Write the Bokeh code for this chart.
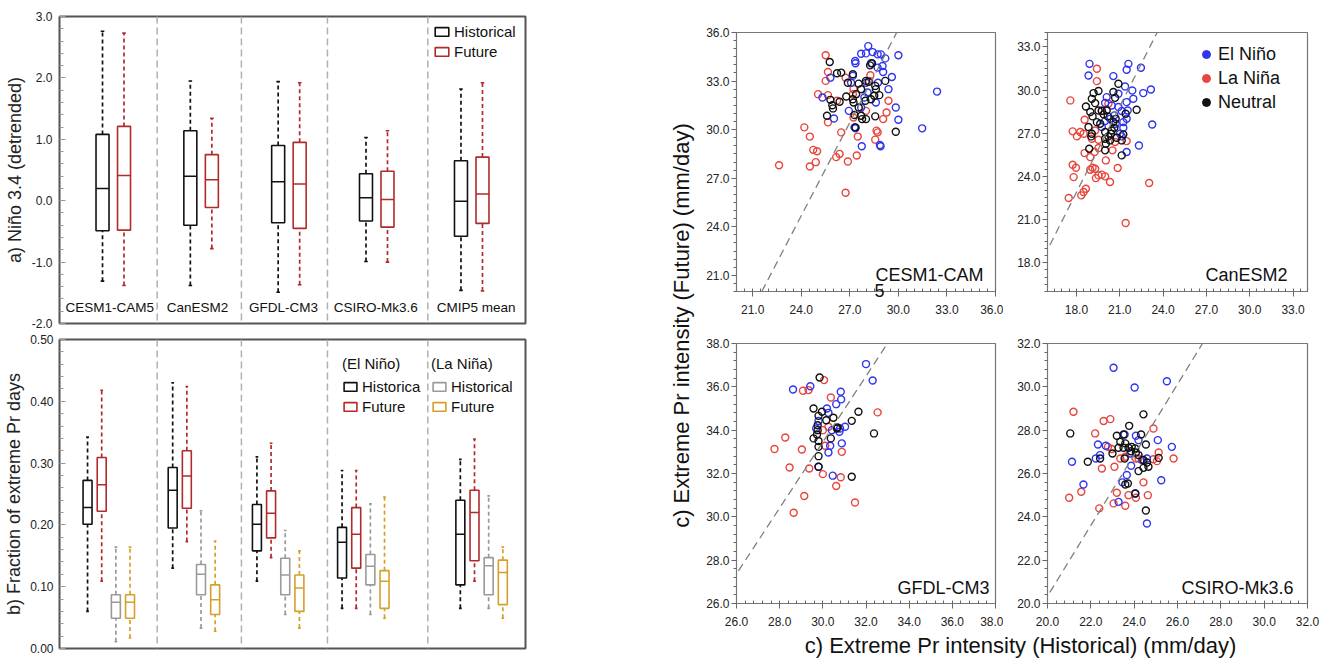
import math
import numpy as np
from bokeh.plotting import figure
from bokeh.layouts import row, column
from bokeh.models import (Range1d, SingleIntervalTicker, PrintfTickFormatter, Label,
                          Legend, LegendItem, Slope, Span, ColumnDataSource,
                          LinearAxis, FixedTicker)
from bokeh.embed import file_html
from bokeh.resources import INLINE

FONT = "Liberation Sans"

# ---------------- data ----------------
models = ["CESM1-CAM5", "CanESM2", "GFDL-CM3", "CSIRO-Mk3.6", "CMIP5 mean"]

# panel a: Nino 3.4 (detrended) box statistics  [min, q1, median, q3, max]
nino_hist = [[-1.31, -0.49, 0.20, 1.08, 2.76],
             [-1.38, -0.40, 0.40, 1.14, 1.95],
             [-1.49, -0.36, 0.31, 0.90, 1.94],
             [-0.99, -0.33, 0.05, 0.44, 1.03],
             [-1.46, -0.58, -0.01, 0.65, 1.82]]
nino_fut = [[-1.38, -0.48, 0.41, 1.21, 2.73],
            [-0.78, -0.11, 0.34, 0.75, 1.34],
            [-1.37, -0.45, 0.27, 0.95, 1.92],
            [-1.00, -0.43, 0.02, 0.48, 1.14],
            [-1.47, -0.37, 0.11, 0.71, 1.92]]

# panel b: fraction of extreme Pr days  [min, q1, median, q3, max]
frac_en_hist = [[0.060, 0.201, 0.228, 0.272, 0.342],
                [0.130, 0.195, 0.256, 0.293, 0.430],
                [0.109, 0.158, 0.201, 0.233, 0.310],
                [0.065, 0.114, 0.172, 0.196, 0.288],
                [0.065, 0.103, 0.185, 0.240, 0.306]]
frac_en_fut = [[0.109, 0.222, 0.265, 0.309, 0.418],
               [0.173, 0.227, 0.279, 0.320, 0.424],
               [0.147, 0.179, 0.219, 0.255, 0.332],
               [0.065, 0.130, 0.185, 0.228, 0.288],
               [0.109, 0.142, 0.220, 0.256, 0.339]]
frac_ln_hist = [[0.011, 0.049, 0.075, 0.087, 0.164],
                [0.033, 0.087, 0.120, 0.136, 0.223],
                [0.055, 0.087, 0.119, 0.146, 0.191],
                [0.055, 0.103, 0.133, 0.152, 0.234],
                [0.065, 0.087, 0.134, 0.147, 0.247]]
frac_ln_fut = [[0.017, 0.049, 0.075, 0.087, 0.164],
               [0.028, 0.055, 0.079, 0.103, 0.174],
               [0.033, 0.060, 0.098, 0.119, 0.158],
               [0.049, 0.065, 0.109, 0.126, 0.245],
               [0.049, 0.071, 0.123, 0.143, 0.164]]

# panel c: extreme Pr intensity (historical, future) per ENSO phase
cesm_elnino = [(28.14, 35.16), (27.70, 34.69), (28.00, 34.71), (28.41, 34.79), (28.72, 34.65), (28.92, 34.65),
               (29.19, 34.40), (30.00, 34.59), (27.33, 34.24), (27.35, 34.10), (28.31, 34.10), (28.72, 33.83),
               (29.02, 33.93), (29.06, 33.56), (29.60, 33.25), (29.39, 32.50), (28.74, 32.90), (28.00, 32.90),
               (27.19, 33.32), (27.08, 32.90), (28.10, 32.29), (27.90, 31.98), (27.70, 31.37), (29.84, 31.37),
               (30.00, 30.61), (26.94, 31.16), (26.02, 30.69), (25.31, 31.98), (25.80, 33.21), (27.29, 30.14),
               (27.35, 30.08), (27.74, 28.97), (28.86, 29.05), (28.90, 28.97), (32.39, 32.35), (31.47, 30.08),
               (28.61, 31.68)]
cesm_lanina = [(25.51, 34.59), (25.65, 33.56), (25.51, 33.01), (26.74, 33.21), (28.27, 33.36), (25.04, 32.19),
               (25.65, 32.13), (26.21, 31.78), (27.23, 32.50), (27.19, 32.19), (29.39, 31.78), (29.27, 31.06),
               (29.06, 30.65), (25.65, 30.45), (24.19, 30.14), (24.53, 29.57), (24.74, 28.75), (24.98, 28.66),
               (24.90, 27.99), (24.53, 27.72), (26.47, 29.83), (26.37, 28.50), (26.16, 28.30), (26.88, 28.03),
               (27.43, 28.40), (27.49, 29.57), (28.65, 29.94), (28.72, 29.83), (28.57, 29.38), (26.74, 26.10),
               (28.00, 31.16), (27.23, 30.75), (28.20, 33.01), (22.63, 27.80)]
cesm_neutral = [(25.76, 34.18), (26.21, 33.48), (26.47, 33.52), (27.19, 33.42), (26.88, 32.90), (27.55, 32.84),
                (28.25, 33.97), (28.37, 34.10), (28.00, 33.01), (28.16, 32.95), (29.19, 33.01), (28.57, 32.70),
                (28.82, 32.13), (28.51, 32.09), (28.31, 31.88), (27.70, 32.50), (27.39, 32.19), (27.19, 31.88),
                (27.23, 31.68), (26.78, 32.05), (25.80, 31.84), (25.92, 31.51), (25.96, 31.31), (26.37, 31.72),
                (27.55, 31.37), (27.29, 30.90), (27.70, 30.86), (27.76, 30.65), (28.00, 30.65), (28.57, 30.82),
                (25.59, 30.86), (27.35, 30.14), (29.84, 29.87), (28.61, 32.50), (27.96, 31.78)]

can_elnino = [(18.91, 31.82), (18.84, 31.01), (21.60, 31.82), (21.48, 31.41), (22.47, 31.55), (20.56, 30.97),
              (21.37, 30.25), (21.87, 29.97), (22.63, 29.79), (23.16, 30.04), (21.94, 29.39), (21.48, 29.16),
              (20.91, 29.74), (20.10, 29.51), (19.99, 29.10), (20.45, 28.93), (20.91, 28.82), (21.14, 28.54),
              (21.55, 28.58), (21.48, 28.00), (21.25, 27.77), (21.25, 27.38), (20.72, 27.66), (20.33, 28.00),
              (19.99, 27.84), (19.76, 27.43), (23.25, 27.61), (22.33, 26.15), (21.48, 25.69), (21.14, 26.78),
              (20.63, 28.24), (21.02, 26.96)]
can_lanina = [(19.42, 31.48), (19.42, 30.62), (17.58, 29.28), (18.57, 27.94), (17.74, 27.13), (18.04, 26.78),
              (18.27, 27.08), (18.50, 26.96), (19.30, 27.19), (19.07, 26.62), (19.53, 26.55), (19.53, 25.97),
              (18.57, 25.62), (19.26, 25.69), (18.96, 25.34), (17.74, 24.81), (17.97, 24.60), (19.12, 24.60),
              (19.30, 24.53), (18.96, 24.46), (19.53, 24.07), (19.76, 24.12), (19.99, 24.00), (19.35, 23.88),
              (17.81, 23.95), (20.33, 23.61), (20.86, 24.58), (20.04, 25.11), (20.50, 25.81), (20.68, 26.39),
              (21.48, 26.45), (18.66, 23.14), (18.50, 22.91), (18.34, 22.68), (17.47, 22.50), (23.04, 23.54),
              (21.41, 20.76), (20.22, 29.05), (19.76, 28.58)]
can_neutral = [(20.91, 30.44), (19.53, 29.93), (19.19, 29.79), (19.07, 29.39), (19.30, 29.09), (18.66, 28.86),
               (18.96, 28.47), (19.12, 28.17), (19.53, 28.58), (19.76, 28.54), (19.88, 28.31), (20.10, 28.58),
               (20.17, 28.17), (19.42, 27.77), (19.65, 27.66), (18.84, 27.43), (19.07, 26.96), (19.03, 26.78),
               (19.99, 27.08), (20.22, 26.78), (20.33, 26.50), (20.04, 26.27), (20.63, 27.38), (20.45, 27.19),
               (20.56, 27.77), (20.72, 28.00), (21.41, 28.35), (22.17, 28.63), (21.14, 26.50), (21.25, 26.92),
               (21.14, 25.46), (18.89, 25.92), (19.99, 25.81), (20.56, 29.86), (20.68, 29.46), (20.40, 26.96),
               (20.79, 26.69), (19.99, 26.62)]

gfdl_elnino = [(32.00, 37.05), (32.31, 36.29), (28.62, 35.88), (29.42, 36.03), (30.83, 35.77), (30.85, 35.42),
               (30.62, 35.20), (30.19, 35.00), (30.26, 34.80), (29.80, 34.42), (29.69, 34.08), (30.42, 34.00),
               (30.77, 33.93), (31.03, 34.16), (30.80, 34.08), (30.88, 33.39), (30.34, 33.28), (30.26, 32.97),
               (30.46, 31.90), (29.80, 32.31)]
gfdl_lanina = [(30.06, 36.31), (29.08, 35.82), (29.34, 35.85), (30.37, 35.51), (32.54, 34.82), (30.00, 34.00),
               (30.26, 34.16), (28.26, 33.66), (27.76, 33.13), (29.03, 33.11), (30.11, 33.28), (30.88, 33.00),
               (28.46, 32.28), (29.37, 32.23), (30.00, 31.97), (30.83, 31.83), (30.62, 31.42), (29.14, 30.96),
               (31.49, 30.66), (28.65, 30.19)]
gfdl_neutral = [(29.85, 36.43), (29.57, 35.00), (29.96, 34.85), (29.80, 34.66), (30.16, 34.46), (30.49, 34.57),
                (31.65, 34.85), (31.34, 34.43), (29.76, 34.23), (29.76, 34.00), (29.73, 33.80), (30.37, 33.62),
                (29.57, 33.62), (29.80, 33.50), (29.80, 33.23), (30.68, 34.12), (32.37, 33.85), (29.80, 32.80),
                (29.80, 32.31), (31.34, 31.85), (30.65, 34.08)]

csiro_elnino = [(23.05, 30.88), (25.51, 30.26), (24.02, 29.97), (23.56, 27.80), (24.08, 27.74), (24.20, 27.54),
                (25.09, 27.54), (25.74, 27.23), (22.33, 27.34), (22.69, 27.28), (22.43, 26.85), (21.13, 26.54),
                (22.23, 26.69), (23.86, 26.36), (24.59, 26.69), (23.66, 25.93), (25.25, 25.69), (21.66, 25.49),
                (23.46, 25.59), (24.05, 25.08), (23.28, 24.69), (24.59, 23.69), (24.36, 26.62), (23.82, 26.92)]
csiro_lanina = [(21.20, 28.85), (22.59, 28.42), (22.90, 28.51), (22.20, 27.85), (24.89, 28.08), (22.79, 27.23),
                (22.97, 27.13), (23.59, 26.77), (24.08, 26.69), (25.13, 26.97), (25.05, 26.57), (25.82, 26.69),
                (23.36, 26.69), (22.51, 26.23), (23.09, 26.31), (21.56, 25.16), (21.00, 24.88), (23.20, 25.11),
                (23.74, 25.00), (24.08, 24.88), (24.63, 25.00), (22.39, 24.39), (23.05, 24.62), (23.59, 24.51),
                (24.43, 25.59), (24.89, 26.66), (24.20, 26.69)]
csiro_neutral = [(21.05, 27.85), (24.43, 28.73), (23.77, 28.20), (23.20, 27.74), (23.51, 27.80), (24.32, 27.80),
                 (23.36, 27.46), (23.59, 27.39), (23.28, 27.19), (23.51, 27.19), (23.74, 27.19), (23.89, 27.23),
                 (24.05, 27.16), (24.54, 27.34), (23.00, 26.92), (23.56, 26.69), (24.20, 26.85), (24.43, 26.62),
                 (24.59, 26.51), (24.66, 26.31), (24.43, 26.26), (24.20, 26.11), (25.13, 26.72), (21.86, 26.54),
                 (22.43, 26.69), (23.71, 25.54), (23.59, 25.49), (24.05, 25.08), (24.54, 24.29), (23.86, 27.03),
                 (24.08, 26.97)]

# dashed fit lines: (gradient, intercept)
fit_lines = {"CESM1-CAM5": (1.92, -21.4), "CanESM2": (1.99, -12.94),
             "GFDL-CM3": (1.52, -12.15), "CSIRO-Mk3.6": (1.63, -12.26)}

# ---------------- styling / layout ----------------
C_BLACK = "#111111"
C_DRED = "#b22a2a"
C_GREY = "#9a9a9a"
C_GOLD = "#d4a02a"
C_BLUE = "#2f35ee"
C_RED = "#e8453c"
FRAME = "#555555"

pos_a = [1.0, 1.98, 2.96, 3.94, 5.0]
pos_b = [0.95, 1.90, 2.84, 3.79, 5.11]
lab_pos_a = [0.96, 1.94, 2.90, 3.93, 5.05]
lab_pos_b = [0.92, 1.93, 2.89, 3.92, 5.05]
dividers = [1.49, 2.43, 3.39, 4.51]


def base_fig(w, h, xr, yr, ml, mr, mt, mb):
    p = figure(width=w, height=h, x_range=xr, y_range=yr, output_backend="svg",
               toolbar_location=None, min_border_left=ml, min_border_right=mr,
               min_border_top=mt, min_border_bottom=mb)
    p.grid.visible = False
    p.background_fill_color = "white"
    p.border_fill_color = "white"
    return p


def draw_boxes(p, centers, stats, color, width, cap):
    mn = [s[0] for s in stats]
    q1 = [s[1] for s in stats]
    md = [s[2] for s in stats]
    q3 = [s[3] for s in stats]
    mx = [s[4] for s in stats]
    src = ColumnDataSource(dict(x=centers, mn=mn, q1=q1, md=md, q3=q3, mx=mx,
                                l=[c - width / 2 for c in centers], r=[c + width / 2 for c in centers],
                                cl=[c - cap / 2 for c in centers], cr=[c + cap / 2 for c in centers]))
    p.segment("x", "q3", "x", "mx", source=src, line_color=color, line_dash="4 3", line_width=1.7)
    p.segment("x", "mn", "x", "q1", source=src, line_color=color, line_dash="4 3", line_width=1.7)
    p.segment("cl", "mx", "cr", "mx", source=src, line_color=color, line_width=1.6)
    p.segment("cl", "mn", "cr", "mn", source=src, line_color=color, line_width=1.6)
    p.segment("l", "md", "r", "md", source=src, line_color=color, line_width=1.5)
    return p.quad(left="l", right="r", bottom="q1", top="q3", source=src,
                  fill_color=None, line_color=color, line_width=1.6)


def style_left_yaxis(p, label, fmt, interval, standoff, lstand):
    ax = p.yaxis[0]
    ax.ticker = SingleIntervalTicker(interval=interval, num_minor_ticks=5)
    ax.formatter = PrintfTickFormatter(format=fmt)
    ax.axis_label = label
    ax.axis_label_text_font = FONT
    ax.axis_label_text_font_size = "18px"
    ax.axis_label_text_font_style = "normal"
    ax.axis_label_text_color = "#222222"
    ax.axis_label_standoff = lstand
    ax.major_label_text_font = FONT
    ax.major_label_text_font_size = "12px"
    ax.major_label_text_color = "#222222"
    ax.major_label_standoff = standoff
    ax.major_tick_in = 6
    ax.major_tick_out = 0
    ax.minor_tick_in = 4
    ax.minor_tick_out = 0
    ax.major_tick_line_color = "#999999"
    ax.minor_tick_line_color = "#999999"
    ax.axis_line_color = None
    p.xaxis.visible = False
    p.outline_line_color = FRAME
    p.outline_line_width = 2


def add_dividers(p):
    for d in dividers:
        p.add_layout(Span(location=d, dimension="height", line_color="#b0b0b0",
                          line_dash="7 4", line_width=1.5))


def box_legend(items, loc, title=None, gw=17, gh=11):
    lg = Legend(items=items, location=loc, padding=0, margin=0, spacing=3,
                glyph_width=gw, glyph_height=gh, label_height=17, label_width=20,
                label_standoff=4, label_text_font=FONT, label_text_font_size="15px",
                label_text_color="#111111", border_line_color=None,
                background_fill_alpha=0)
    if title is not None:
        lg.title = title
        lg.title_text_font = FONT
        lg.title_text_font_size = "15px"
        lg.title_text_font_style = "normal"
        lg.title_text_color = "#111111"
        lg.title_standoff = 6
    return lg


def cat_labels(p, positions, ypix):
    for name, xp in zip(models, positions):
        p.add_layout(Label(x=xp, y=ypix, x_units="data", y_units="screen", text=name,
                           text_align="center", text_baseline="middle", text_font=FONT,
                           text_font_size="13.5px", text_color="#111111"))


# ----- panel a -----
pa = base_fig(530, 331, Range1d(0.4, 5.6), Range1d(-2.0, 3.0), 59, 5, 16, 8)
style_left_yaxis(pa, "a) Niño 3.4 (detrended)", "%.1f", 1.0, 7, 4)
cat_labels(pa, lab_pos_a, 16)
ra_h = draw_boxes(pa, [c - 0.12 for c in pos_a], nino_hist, C_BLACK, 0.145, 0.04)
ra_f = draw_boxes(pa, [c + 0.12 for c in pos_a], nino_fut, C_DRED, 0.145, 0.04)
pa.add_layout(box_legend([LegendItem(label="Historical", renderers=[ra_h]),
                          LegendItem(label="Future", renderers=[ra_f])], (374, 263)))
add_dividers(pa)

# ----- panel b -----
pb = base_fig(530, 337, Range1d(0.4, 5.6), Range1d(0.0, 0.5), 59, 5, 8, 20)
style_left_yaxis(pb, "b) Fraction of extreme Pr days", "%.2f", 0.1, 6, 3)
cat_labels(pb, lab_pos_b, -12)
offs = [-0.237, -0.079, 0.079, 0.237]
rb1 = draw_boxes(pb, [c + offs[0] for c in pos_b], frac_en_hist, C_BLACK, 0.1, 0.03)
rb2 = draw_boxes(pb, [c + offs[1] for c in pos_b], frac_en_fut, C_DRED, 0.1, 0.03)
rb3 = draw_boxes(pb, [c + offs[2] for c in pos_b], frac_ln_hist, C_GREY, 0.1, 0.03)
rb4 = draw_boxes(pb, [c + offs[3] for c in pos_b], frac_ln_fut, C_GOLD, 0.1, 0.03)
pb.add_layout(box_legend([LegendItem(label="Historica", renderers=[rb1]),
                          LegendItem(label="Future", renderers=[rb2])], (283, 233),
                         title="(El Niño)", gw=16))
pb.add_layout(box_legend([LegendItem(label="Historical", renderers=[rb3]),
                          LegendItem(label="Future", renderers=[rb4])], (372, 233),
                         title="(La Niña)", gw=16))
add_dividers(pb)


# ----- panel c (scatter) -----
def scatter_panel(name, pts, xr, yr, interval, nminor, w, h, ml, mr, mt, mb, lab_xy,
                  legend=False, wrap=None):
    p = base_fig(w, h, Range1d(*xr), Range1d(*yr), ml, mr, mt, mb)
    p.outline_line_color = "#777777"
    p.outline_line_width = 1.2
    for ax in (p.xaxis[0], p.yaxis[0]):
        ax.ticker = SingleIntervalTicker(interval=interval, num_minor_ticks=nminor)
        ax.formatter = PrintfTickFormatter(format="%.1f")
        ax.major_label_text_font = FONT
        ax.major_label_text_font_size = "12px"
        ax.major_label_text_color = "#222222"
        ax.major_tick_out = 5
        ax.major_tick_in = 0
        ax.major_tick_line_color = "#666666"
        ax.minor_tick_line_color = "#666666"
        ax.axis_line_color = "#777777"
    p.xaxis.minor_tick_in = 3
    p.xaxis.minor_tick_out = 0
    p.yaxis.minor_tick_in = 0
    p.yaxis.minor_tick_out = 3
    p.xaxis.major_label_standoff = 8
    p.yaxis.major_label_standoff = 2
    for key, col in (("lanina", C_RED), ("elnino", C_BLUE), ("neutral", C_BLACK)):
        xs = [q[0] for q in pts[key]]
        ys = [q[1] for q in pts[key]]
        p.scatter(xs, ys, marker="circle", size=7, fill_color=None,
                  line_color=col, line_width=1.4)
    if legend:
        items = []
        for lbl, col in (("El Niño", C_BLUE), ("La Niña", C_RED), ("Neutral", C_BLACK)):
            r = p.scatter(x=np.array([np.nan]), y=np.array([np.nan]), marker="circle", size=8,
                          fill_color=col, line_color=col)
            items.append(LegendItem(label=lbl, renderers=[r]))
        lg = Legend(items=items, location=(149, 177), padding=0, margin=0, spacing=0,
                    glyph_width=20, glyph_height=24, label_height=24, label_standoff=2,
                    label_text_font=FONT, label_text_font_size="18px",
                    label_text_color="#111111", border_line_color=None,
                    background_fill_alpha=0)
        p.add_layout(lg)
    g, b = fit_lines[name]
    p.add_layout(Slope(gradient=g, y_intercept=b, line_color="#808080",
                       line_dash="8 5", line_width=1.3))
    for txt, lx, ly in lab_xy:
        p.add_layout(Label(x=lx, y=ly, x_units="screen", y_units="screen", text=txt,
                           text_align="left", text_baseline="middle", text_font=FONT,
                           text_font_size="18px", text_color="#111111", level="overlay"))
    if wrap is not None:
        # wrapped last character of the panel name, which sits on the frame's bottom edge
        txt, lx = wrap
        frame_w = w - ml - mr
        xv = round(xr[0] + (lx + 5.0) / frame_w * (xr[1] - xr[0]), 2)
        extra = LinearAxis(ticker=FixedTicker(ticks=[xv]), major_label_overrides={xv: txt},
                           axis_line_color=None, major_tick_line_color=None,
                           minor_tick_line_color=None, major_tick_out=0, major_tick_in=0,
                           major_label_standoff=-33, major_label_text_font=FONT,
                           major_label_text_font_size="18px", major_label_text_color="#111111")
        p.add_layout(extra, "below")
    return p


c1 = scatter_panel("CESM1-CAM5", dict(elnino=cesm_elnino, lanina=cesm_lanina, neutral=cesm_neutral),
                   (20, 36), (20, 36), 3, 6, 308, 334, 41, 8, 31, 43,
                   [("CESM1-CAM", 139, 17)], wrap=("5", 138))
c2 = scatter_panel("CanESM2", dict(elnino=can_elnino, lanina=can_lanina, neutral=can_neutral),
                   (16, 34), (16, 34), 3, 6, 324, 334, 44, 20, 32, 43,
                   [("CanESM2", 158, 17)], legend=True)
c3 = scatter_panel("GFDL-CM3", dict(elnino=gfdl_elnino, lanina=gfdl_lanina, neutral=gfdl_neutral),
                   (26, 38), (26, 38), 2, 5, 308, 298, 41, 8, 9, 29,
                   [("GFDL-CM3", 161, 16)])
c4 = scatter_panel("CSIRO-Mk3.6", dict(elnino=csiro_elnino, lanina=csiro_lanina, neutral=csiro_neutral),
                   (20, 32), (20, 32), 2, 5, 324, 298, 44, 20, 9, 29,
                   [("CSIRO-Mk3.6", 134, 16)])


def text_fig(w, h, txt, lx, ly, angle):
    p = figure(width=w, height=h, x_range=Range1d(0, 1), y_range=Range1d(0, 1),
               x_axis_type=None, y_axis_type=None, output_backend="svg",
               toolbar_location=None, min_border=0)
    p.grid.visible = False
    p.outline_line_color = None
    p.add_layout(Label(x=lx, y=ly, x_units="screen", y_units="screen", text=txt, angle=angle,
                       text_align="center", text_baseline="middle", text_font=FONT,
                       text_font_size="22px", text_color="#111111"))
    return p


ylab = text_fig(165, 668, "c) Extreme Pr  intensity (Future) (mm/day)", 151, 346, math.pi / 2)
xlab = text_fig(632, 36, "c) Extreme Pr intensity (Historical) (mm/day)", 325, 23, 0)

layout = row(column(pa, pb), ylab, column(row(c1, c2), row(c3, c4), xlab))

open("out.html", "w").write(file_html(layout, INLINE))
